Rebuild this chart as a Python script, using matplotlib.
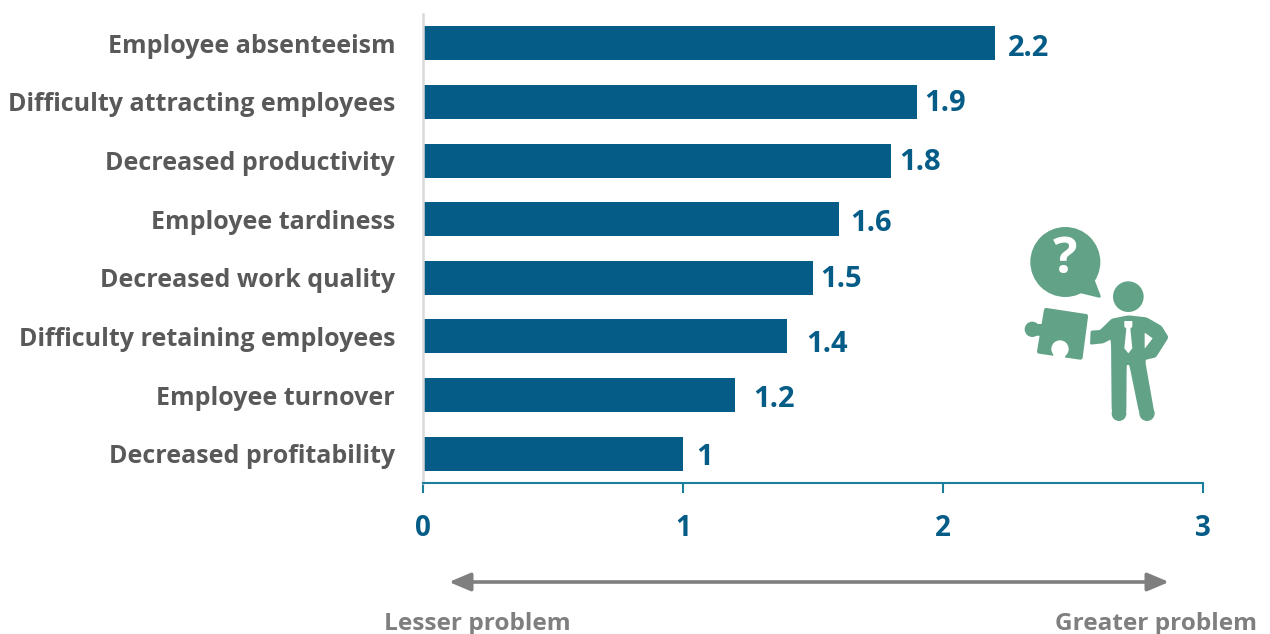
import matplotlib.pyplot as plt
from matplotlib.patches import Circle, PathPatch, Polygon
from matplotlib.path import Path

plt.rcParams["font.family"] = ["Open Sans", "DejaVu Sans"]
plt.rcParams["font.weight"] = "bold"

problems = [
    "Employee absenteeism",
    "Difficulty attracting employees",
    "Decreased productivity",
    "Employee tardiness",
    "Decreased work quality",
    "Difficulty retaining employees",
    "Employee turnover",
    "Decreased profitability",
]
scores = [2.2, 1.9, 1.8, 1.6, 1.5, 1.4, 1.2, 1]
x_ticks = [0, 1, 2, 3]

# hand-placed nudges for the value labels, in points
label_dx = [9.4, 5.2, 5.8, 8.2, 5.2, 13.6, 13, 9.4]
label_dy = [-3.4, -1.2, -1.2, -3.2, -1.2, -5.7, -3.4, -2.9]

BLUE = "#045C87"
TEAL = "#1A7F9C"
GREY = "#7F7F7F"
DARK_GREY = "#595959"
GREEN = "#62A388"

W, H = 1270, 634
fig = plt.figure(figsize=(W / 100, H / 100), dpi=100, facecolor="white")
ax = fig.add_axes([423 / W, 1 - 483 / H, 780 / W, 469 / H])

y_pos = list(range(len(problems)))
ax.barh(y_pos, scores, height=0.58, color=BLUE, zorder=2)
ax.set_xlim(0, 3)
ax.set_ylim(len(problems) - 0.5, -0.5)

for spine in ["top", "right"]:
    ax.spines[spine].set_visible(False)
ax.spines["left"].set_color("#D9D9D9")
ax.spines["left"].set_linewidth(1.8)
ax.spines["bottom"].set_color(TEAL)
ax.spines["bottom"].set_linewidth(1.5)

ax.set_yticks(y_pos, problems)
ax.tick_params(axis="y", length=0, pad=20, labelsize=18, labelcolor=DARK_GREY)
ax.set_xticks(x_ticks, [str(t) for t in x_ticks])
ax.tick_params(axis="x", direction="out", length=7, width=1.5, color=TEAL, pad=15,
               labelsize=20, labelcolor=BLUE)

for y, val, dx, dy in zip(y_pos, scores, label_dx, label_dy):
    ax.annotate(f"{val:g}", (val, y), xytext=(dx, dy), textcoords="offset points",
                va="center", ha="left", fontsize=21, color=BLUE)

# full-figure layer in pixel units for the arrow, captions and icon
ov = fig.add_axes([0, 0, 1, 1])
ov.set_xlim(0, W)
ov.set_ylim(H, 0)
ov.axis("off")
ov.patch.set_alpha(0)

ov.annotate("", xy=(449, 582), xytext=(1169, 582),
            arrowprops=dict(arrowstyle="<|-|>,head_length=1.3,head_width=0.55", color=GREY,
                            lw=2.6, shrinkA=0, shrinkB=0))
ov.text(477, 624, "Lesser problem", ha="center", va="center", fontsize=17.6, color=GREY)
ov.text(1156, 624, "Greater problem", ha="center", va="center", fontsize=17.6, color=GREY)


def px(points):
    # icon outlines are noted on a 3x grid starting at (1000, 210)
    return [(1000 + x / 3, 210 + y / 3) for x, y in points]


def icon_poly(points, color=GREEN, z=3):
    ov.add_patch(Polygon(px(points), closed=True, facecolor=color, edgecolor="none", zorder=z))


def icon_smooth(points, color=GREEN, z=3, keep=0.3):
    # closed outline whose corners are replaced by quadratic curves
    pts = px(points)
    n = len(pts)
    verts, codes = [], []
    for i, (x, y) in enumerate(pts):
        xp, yp = pts[i - 1]
        xn, yn = pts[(i + 1) % n]
        start = (x + (xp - x) * keep, y + (yp - y) * keep)
        end = (x + (xn - x) * keep, y + (yn - y) * keep)
        verts.append(start)
        codes.append(Path.MOVETO if i == 0 else Path.LINETO)
        verts += [(x, y), end]
        codes += [Path.CURVE3, Path.CURVE3]
    verts.append(verts[0])
    codes.append(Path.CLOSEPOLY)
    ov.add_patch(PathPatch(Path(verts, codes), facecolor=color, edgecolor="none", zorder=z))


def icon_circle(cx, cy, r, color=GREEN, z=3):
    ov.add_patch(Circle(px([(cx, cy)])[0], r / 3, facecolor=color, edgecolor="none", zorder=z))


# speech bubble
icon_circle(196, 156, 105)
icon_smooth([(280, 200), (305, 265), (235, 248)], keep=0.15)
ov.text(1065.5, 260, "?", ha="center", va="center", fontsize=37, color="white", zorder=4)

# person
icon_circle(385, 260, 46)
icon_smooth([(272, 362), (300, 360), (335, 326), (385, 316), (440, 322), (485, 348), (506, 382),
             (468, 442), (435, 450), (463, 608), (418, 612),
             (388, 465), (380, 465), (379, 612), (335, 612),
             (333, 388), (310, 400), (270, 404)], keep=0.12)
icon_circle(441, 610, 23)
icon_circle(357, 611, 22)
icon_smooth([(434, 368), (458, 385), (434, 416)], color="white", z=4, keep=0.05)
icon_poly([(373, 333), (397, 333), (397, 350), (391, 356), (397, 415), (385, 430), (373, 415),
           (379, 356), (373, 350)], color="white", z=4)

# puzzle piece
icon_smooth([(133, 293), (265, 313), (247, 450), (110, 430)], keep=0.05)
icon_circle(97, 358, 23)
icon_poly([(92, 342), (135, 342), (130, 378), (92, 376)])
icon_circle(180, 417, 26, color="white", z=4)
icon_poly([(162, 425), (197, 428), (192, 460), (156, 455)], color="white", z=4)

fig.savefig("out.png", dpi=100)
